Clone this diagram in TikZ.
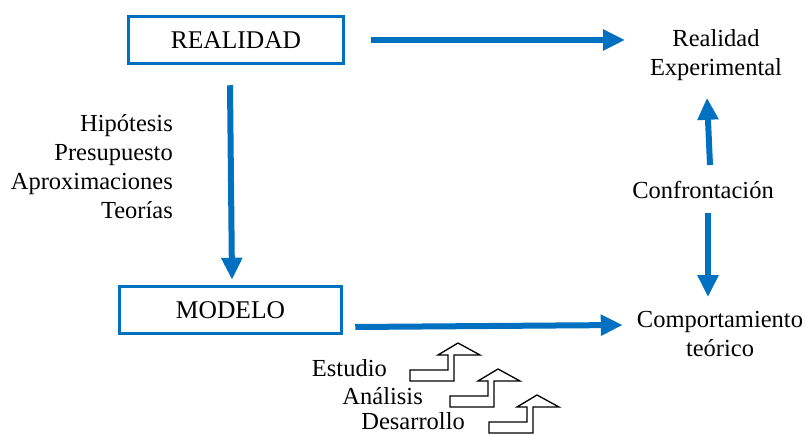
\documentclass[tikz,border=0pt]{standalone}
\usepackage{fontspec}
\setmainfont{Liberation Serif}
\usetikzlibrary{arrows.meta,calc}
\definecolor{mblue}{RGB}{0,112,192}
\tikzset{
  boxnode/.style={draw=mblue,line width=3.5pt,minimum width=215pt,minimum height=47pt,inner sep=0pt,font=\fontsize{25.5}{29}\selectfont},
  lbl/.style={inner sep=0pt,font=\fontsize{24.5}{29}\selectfont,align=center},
  steplbl/.style={inner sep=0pt,font=\fontsize{24.5}{29}\selectfont,anchor=east},
  bigarrow/.style={draw=mblue,line width=6pt,-{Triangle[length=22pt,width=20pt]}},
  stairarrow/.style={draw=black,line width=1.3pt,fill=white,line join=miter},
  pics/stair/.style={code={
    \draw[stairarrow] (-48,38) -- (-4,38) -- (-4,12) -- (22,12) -- (0,0) -- (-20,12) -- (-10,12) -- (-10,27) -- (-48,27) -- cycle;
  }}
}
\begin{document}
\begin{tikzpicture}[x=1pt,y=-1pt]
\useasboundingbox (0,0) rectangle (805,435);
\node[boxnode] (real) at (236,40) {REALIDAD};
\node[boxnode,minimum width=222pt] (model) at (230.5,310) {MODELO};
\node[lbl] (realexp) at (716,55) {Realidad\\Experimental};
\node[lbl] (conf) at (703,190) {Confrontación};
\node[lbl] (comp) at (720,334) {Comportamiento\\teórico};
\node[lbl,align=right,anchor=east] (hip) at (173,167) {Hipótesis\\Presupuesto\\Aproximaciones\hspace*{8pt}\\Teorías};
\node[steplbl] (est) at (387,368) {Estudio};
\node[steplbl] (ana) at (423,396) {Análisis};
\node[steplbl] (des) at (465,421) {Desarrollo};
\pic at (458,343) {stair};
\pic at (498,369) {stair};
\pic at (537,395) {stair};
\coordinate (a1s) at ($(real.east)+(26,0)$);
\coordinate (a1e) at (625,40);
\draw[bigarrow] (a1s) -- (a1e);
\draw[bigarrow] ($(real.south)+(-6,20)$) -- ($(model.north)+(1.5,-5)$);
\draw[bigarrow] ($(model.east)+(12,17)$) -- ($(comp.west)+(-14,-9)$);
\draw[bigarrow] ($(conf.north)+(7,-16)$) -- ($(realexp.south)+(-9,17)$);
\draw[bigarrow] ($(conf.south)+(5,14)$) -- ($(comp.north)+(-12,-14)$);
\end{tikzpicture}
\end{document}
